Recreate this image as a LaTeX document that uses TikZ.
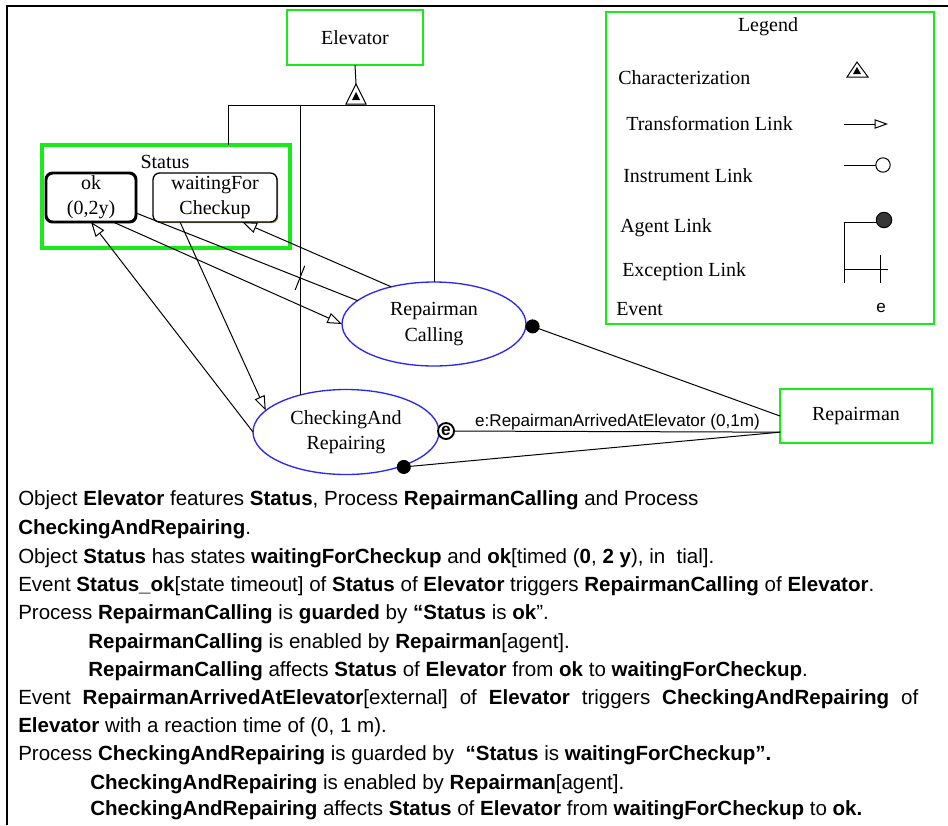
\documentclass[tikz,border=0pt]{standalone}
\usepackage{fontspec}
\setmainfont{Liberation Serif}
\newfontfamily\bodyfont{Liberation Sans}
\usetikzlibrary{arrows.meta, shapes.geometric, shadows, calc}

\definecolor{opmgreen}{RGB}{25,235,25}
\definecolor{procblue}{RGB}{40,40,245}
\definecolor{shadeolive}{RGB}{150,140,70}
\definecolor{agentgray}{RGB}{55,55,55}

\newcommand{\diafont}{\fontsize{15}{19}\selectfont}
\newcommand{\txtfont}{\bodyfont\fontsize{15.4}{18}\selectfont}
\newcommand{\evtfont}{\bodyfont\fontsize{12.8}{14}\selectfont}

\tikzset{
  object/.style={draw=opmgreen, line width=2pt, inner sep=0pt, outer sep=0pt, font=\diafont},
  process/.style={draw=procblue, line width=1pt, ellipse, inner sep=0pt, outer sep=0pt, align=center, font=\diafont},
  state/.style={draw, rounded corners=5pt, fill=white, inner sep=0pt, outer sep=0pt, align=center, font=\diafont,
    minimum height=36.75pt, drop shadow={shadow xshift=.9pt, shadow yshift=-.9pt, fill=shadeolive, opacity=1}},
  link/.style={line width=.75pt},
  result/.style={link, -{Triangle[open, length=11pt, width=8pt]}},
  agent/.style={link, -{Circle[length=10.5pt]}},
  txt/.style={anchor=base west, inner sep=0pt, font=\txtfont},
  legtxt/.style={anchor=base west, inner sep=0pt, font=\diafont},
}

\begin{document}
\begin{tikzpicture}[x=0.75pt, y=-0.75pt]
\useasboundingbox (0,0) rectangle (948,825);
% frame
\draw[line width=1.5pt] (7,825) -- (7,6) -- (948,6);

% things
\node[object, minimum width=102pt, minimum height=41.25pt] (elev) at (355,37.5) {Elevator};
\node[object, line width=3pt, minimum width=186pt, minimum height=77.25pt] (stat) at (166,196.5) {};
\node[font=\diafont, anchor=base, inner sep=0pt] (statlbl) at (165,168) {Status};
\node[state, line width=2.2pt, minimum width=67.5pt] (ok) at (91,197.5) {ok\\(0,2y)};
\node[state, line width=1pt, minimum width=93pt] (wfc) at (215,197.5) {waitingFor\\Checkup};
\node[process, minimum width=138pt, minimum height=63pt] (RC) at (434,324) {Repairman\\Calling};
\node[process, minimum width=139.5pt, minimum height=63.75pt] (CAR) at (346,432) {CheckingAnd\\Repairing};
\node[object, minimum width=114pt, minimum height=40.5pt] (rep) at (856,416) {Repairman};

% characterization
\coordinate (chartop) at (356,84);
\coordinate (bar) at (356,105);
\draw[link] (elev.south) -- (chartop);
\draw[link, fill=white] (chartop) -- (346,104) -- (366,104) -- cycle;
\fill (356,92) -- (352,100) -- (360,100) -- cycle;
\draw[link] ($(stat.north west)+(186,0)$) |- (bar);
\draw[link] (CAR.141) |- (RC.north |- bar) -- (RC.north);

% links
\draw[result] (CAR.west) -- (ok.south);
\draw[result] (ok.-48) -- (RC.west);
\draw[link] (ok.-19) -- node[pos=.74, sloped, inner sep=0pt] (exc) {\rule[-9.75pt]{.75pt}{19.5pt}} (RC.163);
\draw[result] (wfc.215) -- (CAR.165);
\draw[result] (RC.139) -- (wfc.-42);
\draw[agent] (rep.west) -- (RC.east);
\draw[agent] (rep.192) -- (CAR.-35);
\node[draw, circle, line width=1.4pt, inner sep=0pt, minimum size=12pt, fill=white,
  font=\bodyfont\bfseries\fontsize{13}{13}\selectfont] (evt) at (446,431) {e};
\draw[link] (rep.192) -- node[above, inner sep=1pt, font=\evtfont] (evtlbl) {e:RepairmanArrivedAtElevator (0,1m)} (evt);

% legend
\node[object, minimum width=246pt, minimum height=234pt] (legend) at (770,168) {};
\node[font=\diafont] (legtitle) at (768,27) {Legend};
\node[legtxt] (lchar) at (618,84) {Characterization};
\node[legtxt] (ltrans) at (626,130) {Transformation Link};
\node[legtxt] (linst) at (623,182) {Instrument Link};
\node[legtxt] (lagent) at (620,232) {Agent Link};
\node[legtxt] (lexc) at (622,276) {Exception Link};
\node[legtxt] (levent) at (616,315) {Event};
\draw[link, fill=white] (857,62) -- (847,77) -- (868,77) -- cycle;
\fill (857,67) -- (853,74) -- (861,74) -- cycle;
\draw[link, -{Triangle[open, length=10pt, width=7pt]}] (844,124) -- (888,124);
\draw[link] (844,165) -- (876,165);
\draw[link, fill=white] (883,165) circle[radius=5.4pt];
\draw[link] (844,283) -- (844,222) -- (877,222);
\filldraw[fill=agentgray, line width=.75pt] (884,220) circle[radius=5.8pt];
\draw[link] (844,269) -- (888,269);
\draw[link] (880,255) -- (880,283);
\node[font=\evtfont] (leve) at (881,308) {e};

% text
\node[txt] (l1) at (18,505) {Object \textbf{Elevator} features \textbf{Status}, Process \textbf{RepairmanCalling} and Process};
\node[txt] (l2) at (18,534) {\textbf{CheckingAndRepairing}.};
\node[txt] (l3) at (18,563) {Object \textbf{Status} has states \textbf{waitingForCheckup} and \textbf{ok}[timed (\textbf{0}, \textbf{2 y}), in\ \ tial].};
\node[txt] (l4) at (18,591) {Event \textbf{Status\_ok}[state timeout] of \textbf{Status} of \textbf{Elevator} triggers \textbf{RepairmanCalling} of \textbf{Elevator}.};
\node[txt] (l5) at (18,619) {Process \textbf{RepairmanCalling} is \textbf{guarded} by \textbf{“Status} is \textbf{ok}”.};
\node[txt] (l6) at (88,648) {\textbf{RepairmanCalling} is enabled by \textbf{Repairman}[agent].};
\node[txt] (l7) at (88,676) {\textbf{RepairmanCalling} affects \textbf{Status} of \textbf{Elevator} from \textbf{ok} to \textbf{waitingForCheckup}.};
\node[txt] (l8) at (18,704) {\makebox[675pt][s]{Event \textbf{RepairmanArrivedAtElevator}[external] of \textbf{Elevator} triggers \textbf{CheckingAndRepairing} of}};
\node[txt] (l9) at (18,732) {\textbf{Elevator} with a reaction time of (0, 1 m).};
\node[txt] (l10) at (18,760) {Process \textbf{CheckingAndRepairing} is guarded by\ \ \textbf{“Status} is \textbf{waitingForCheckup”.}};
\node[txt] (l11) at (90,789) {\textbf{CheckingAndRepairing} is enabled by \textbf{Repairman}[agent].};
\node[txt] (l12) at (90,815) {\textbf{CheckingAndRepairing} affects \textbf{Status} of \textbf{Elevator} from \textbf{waitingForCheckup} to \textbf{ok.}};
\end{tikzpicture}
\end{document}
